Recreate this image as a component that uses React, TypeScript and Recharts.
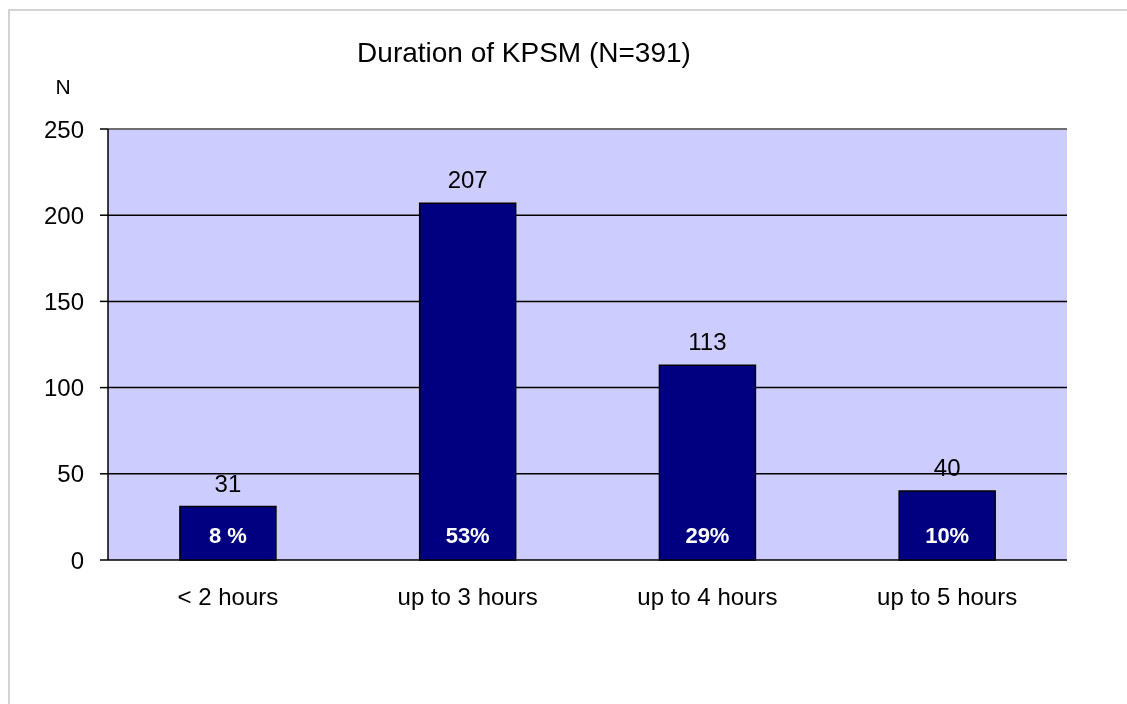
import { BarChart, Bar, XAxis, YAxis, CartesianGrid, LabelList, ReferenceLine } from "recharts";

const categories = ["< 2 hours", "up to 3 hours", "up to 4 hours", "up to 5 hours"];
const counts = [31, 207, 113, 40];
const shares = ["8 %", "53%", "29%", "10%"];
const yTicks = [0, 50, 100, 150, 200, 250];
const boundaryTicks = [0, 1, 2, 3, 4];

const data = categories.map((name, i) => ({ name, count: counts[i], pct: shares[i] }));

const font = "'Liberation Sans', Arial, sans-serif";

export default function App() {
  return (
    <div style={{ position: "relative", width: 1111, height: 688, fontFamily: font }}>
      {/* outer chart frame, reaching past the window edges */}
      <div
        style={{
          position: "fixed",
          left: 8,
          top: 9,
          width: 2000,
          height: 2000,
          borderTop: "2px solid #d3d3d3",
          borderLeft: "2px solid #d3d3d3",
          pointerEvents: "none",
        }}
      />
      <BarChart
        width={1111}
        height={688}
        data={data}
        margin={{ top: 121, right: 52, bottom: 96, left: 40 }}
        barCategoryGap="30%"
      >
        <CartesianGrid vertical={false} fill="#ccccff" fillOpacity={1} stroke="#000" strokeWidth={1.5} />
        <XAxis
          xAxisId="edge"
          type="number"
          domain={[0, 4]}
          ticks={boundaryTicks}
          allowDataOverflow
          height={0}
          tick={false}
          tickSize={8}
          axisLine={{ stroke: "#000", strokeWidth: 1.5 }}
          tickLine={{ stroke: "#000", strokeWidth: 1.5 }}
        />
        <XAxis
          dataKey="name"
          height={40}
          axisLine={false}
          tickLine={false}
          tickSize={8}
          tickMargin={20}
          tick={{ fill: "#000", fontSize: 24, fontFamily: font }}
          interval={0}
        />
        <YAxis
          domain={[0, 250]}
          ticks={yTicks}
          width={60}
          tickSize={8}
          tickMargin={16}
          axisLine={{ stroke: "#000", strokeWidth: 1.5 }}
          tickLine={{ stroke: "#000", strokeWidth: 1.5 }}
          tick={{ fill: "#000", fontSize: 24, fontFamily: font }}
        />
        <YAxis
          yAxisId="right"
          orientation="right"
          width={0}
          domain={[0, 250]}
          tick={false}
          tickLine={false}
          axisLine={{ stroke: "#808080", strokeWidth: 2 }}
        />
        <ReferenceLine y={250} stroke="#808080" strokeWidth={1.5} />
        <Bar dataKey="count" fill="#000080" stroke="#000" strokeWidth={1.5} isAnimationActive={false}>
          <LabelList dataKey="count" position="top" offset={15} fill="#000" fontSize={24} fontFamily={font} />
          <LabelList
            dataKey="pct"
            position="insideBottom"
            offset={17}
            fill="#fff"
            fontSize={22}
            fontWeight="bold"
            fontFamily={font}
          />
        </Bar>
      </BarChart>
      <svg
        width={1111}
        height={688}
        style={{ position: "absolute", left: 0, top: 0, pointerEvents: "none" }}
      >
        <text x={516} y={54} textAnchor="middle" fontSize={28} fontFamily={font} fill="#000">
          Duration of KPSM (N=391)
        </text>
        <text x={55} y={86} textAnchor="middle" fontSize={21} fontFamily={font} fill="#000">
          N
        </text>
      </svg>
    </div>
  );
}
